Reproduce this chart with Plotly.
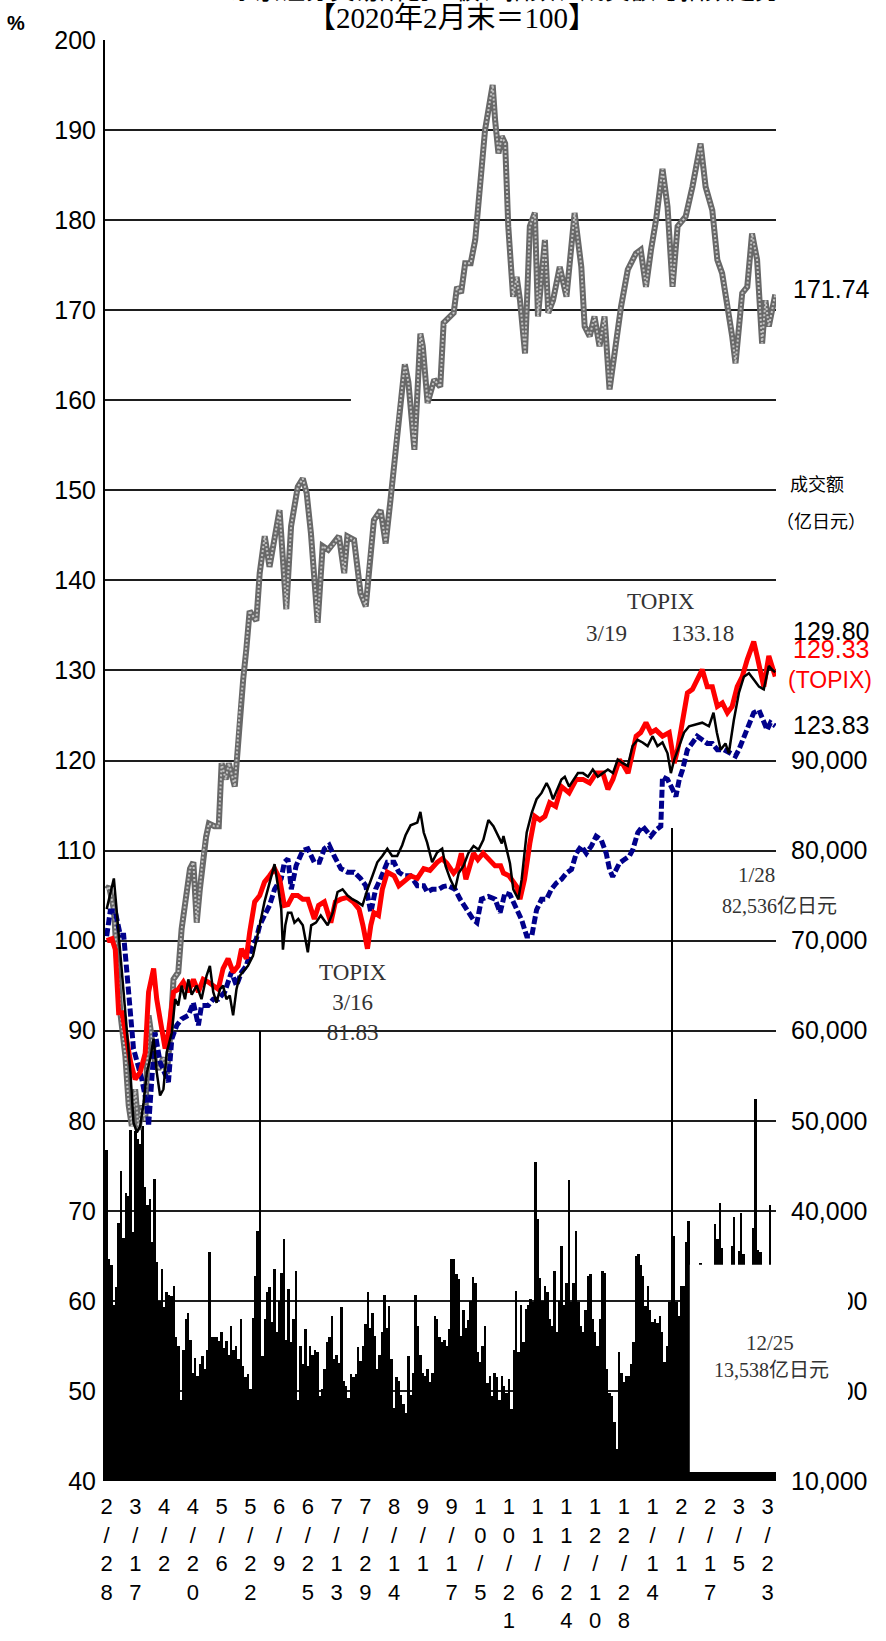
import plotly.graph_objects as go

# ---------------- data ----------------
tick_dates = ["2/28", "3/17", "4/2", "4/20", "5/6", "5/22", "6/9", "6/25", "7/13", "7/29",
              "8/14", "9/1", "9/17", "10/5", "10/21", "11/6", "11/24", "12/10", "12/28",
              "1/14", "2/1", "2/17", "3/5", "3/23"]
tick_pos = [12 * i for i in range(len(tick_dates))]

# daily trading value (亿日元), one per trading day index 0..279
volume = [46700, 34600, 34000, 29500, 31500, 38700, 44400, 37000, 42000, 41700,
          49000, 37600, 48900, 48000, 47400, 49400, 42600, 40700, 41300, 36500,
          43500, 34300, 30000, 33500, 29300, 31000, 30700, 30500, 31700, 26000,
          25000, 19000, 24500, 28000, 28700, 25700, 22000, 23700, 21700, 23000,
          23900, 22400, 24600, 35400, 26000, 26000, 26000, 25600, 26500, 24800,
          25600, 24000, 27200, 24600, 25000, 23500, 28000, 22800, 21500, 21900,
          20200, 28100, 32800, 37800, 60000, 23900, 28000, 31000, 31500, 27600,
          33500, 26500, 30000, 33100, 36900, 25700, 31300, 25400, 28000, 33300,
          19000, 25000, 23000, 26900, 22800, 25000, 24000, 24600, 24300, 19400,
          20200, 22400, 25400, 26000, 28300, 23500, 24000, 23100, 29300, 21100,
          20500, 19200, 21900, 21500, 21900, 24900, 23300, 25000, 27400, 31000,
          27000, 28700, 26100, 22400, 24000, 26500, 30700, 27000, 29400, 23500,
          18100, 21500, 21100, 19600, 18500, 17600, 23900, 19600, 22000, 30600,
          27200, 24000, 22000, 21700, 22400, 21000, 22000, 28300, 28000, 26000,
          25400, 25700, 25000, 26900, 34600, 34600, 33000, 32400, 26100, 29000,
          27000, 27900, 30000, 32600, 32000, 24300, 23200, 25000, 27200, 20900,
          21700, 19400, 22000, 21600, 19000, 21700, 20500, 19800, 21300, 18000,
          24600, 31100, 24300, 29500, 25400, 29100, 29500, 30200, 29900, 45400,
          39100, 32500, 30000, 31700, 31000, 28000, 27200, 33300, 26500, 30000,
          36100, 29500, 32000, 43400, 29900, 32000, 37800, 29900, 27200, 26500,
          29000, 32800, 33000, 28000, 26500, 25000, 28000, 33300, 33100, 22400,
          19800, 19400, 16500, 13538, 24300, 22000, 21000, 21700, 21700, 23000,
          25400, 35000, 35200, 34000, 32800, 29400, 31600, 29000, 27600, 28000,
          27500, 28300, 26500, 23200, 25000, 29900, 82536, 37200, 29900, 28300,
          31700, 31700, 36500, 38900, 30000, 30000, 32000, 28500, 34200, 31000,
          29000, 32500, 30500, 33000, 38500, 36900, 40900, 35900, 31000, 30000,
          32500, 36100, 39300, 32000, 35500, 39800, 35200, 31000, 29500, 32000,
          38100, 52400, 35600, 35400, 31000, 30500, 32000, 40600, 33000, 32500]
vol_days = list(range(len(volume)))

# gray index (171.74 at the end)
gray_x = [0, 1, 3, 4.3, 5.7, 7.8, 9.2, 10.5, 11.9, 13.3, 14.7, 16.1, 17.5, 18.9, 20.2, 21.6,
          23.7, 25.1, 26.5, 27.9, 29.9, 31.3, 32.7, 34.8, 36.2, 37.6, 38.9, 40.3, 41.5, 42.7,
          45, 46.8, 48, 49.7, 51, 53.5, 54.2, 55.5, 57, 58.3, 59.7, 62.5, 63.9, 66, 68, 70,
          72.2, 75, 77, 79.8, 81.9, 83.5, 85.3, 88.1, 90.2, 92.5, 95, 97, 99.2, 100.5, 103.3,
          106, 108.2, 109.5, 111.6, 114.4, 116.5, 118.5, 120, 121.3, 123, 124.5, 126, 127.5,
          128.5, 129.6, 131, 132, 134, 136.8, 139.3, 140.7, 142.5, 144.9, 146.3, 148, 149.7,
          152, 153.9, 156, 158, 160.1, 161.2, 162.2, 163.6, 165, 166.4, 167.7, 168.9, 169.7,
          171.2, 172.6, 174.7, 176.7, 178.8, 180.1, 183, 184.4, 186.4, 189.2, 192, 195.4,
          198.2, 199.6, 201.7, 203.7, 205.8, 207.9, 210, 212.7, 214.8, 217.6, 221, 223,
          225.2, 227.3, 229.4, 232.1, 234.2, 236.3, 238.4, 241.8, 244.6, 248, 250.1, 252.9,
          255, 257, 259, 261.2, 262.6, 265.4, 267.5, 269.5, 271.6, 273.7, 275.1, 276.5, 279.2]
gray_y = [105.7, 106, 103.5, 98.3, 92, 87.2, 81.7, 79.4, 83.5, 79, 81.7, 80, 91.7, 89, 86.5, 85.7,
          87, 85.2, 89.3, 95.7, 96.5, 101.3, 103.9, 108, 108.7, 102, 105.7, 109.8, 111.5, 113,
          112.7, 112.7, 119.7, 117.9, 119.7, 117.1, 120, 125.3, 129, 132.3, 136.6, 135.5, 140.8,
          144.9, 141.5, 144.5, 147.8, 136.8, 146, 150.4, 151.3, 149.7, 145.2, 135.3, 143.8,
          143.4, 144.1, 144.9, 140.8, 144.9, 144.5, 138.6, 137.1, 141.5, 146.7, 147.8, 144.1,
          148.9, 152.6, 156.7, 161, 164, 162, 157, 154.5, 160, 167.4, 166, 159.7, 162.3, 161.5,
          168.6, 169.1, 169.7, 172.6, 171.9, 175.2, 175.2, 177.8, 184.5, 190, 193.3, 195,
          191.1, 187.4, 189.3, 188.5, 179.3, 174.1, 171.5, 173.7, 171.1, 165.2, 179.3, 180.8,
          169.3, 177.8, 169.7, 171.1, 174.8, 171.5, 180.8, 174.8, 168.2, 167.1, 169.3, 166,
          169.3, 161.2, 166.3, 170.4, 174.5, 176.3, 176.7, 172.6, 176.7, 180, 185.7, 181.5,
          172.6, 179.3, 180.4, 183.7, 188.5, 183.7, 181.1, 175.6, 174.1, 171.1, 167.1, 164.1,
          171.9, 172.6, 178.5, 175.6, 166.3, 171.1, 168.2, 171.74]

# TOPIX (red)
topix_x = [0, 2.2, 3.6, 5, 6.4, 8.5, 10, 11.9, 14, 16.1, 17.5, 19.6, 20.9, 22.3, 23.7, 24.4,
           25.8, 27.9, 29.9, 32, 34.1, 36.2, 38.3, 40.3, 42.4, 44.5, 46.6, 48.6, 50.7, 52.8,
           54.9, 56.3, 58.3, 59.7, 61.8, 63.9, 65.9, 68, 70.1, 72.2, 74.2, 75.7, 77.7, 79.8,
           81.9, 84, 86.7, 88.5, 90.9, 93.6, 95.5, 97.8, 100.5, 103, 105.4, 107, 108.9, 110.3,
           111.6, 113.5, 115.1, 117.2, 120, 122, 124.1, 127, 129.7, 132.4, 135, 138, 140.1,
           142, 144.9, 146.5, 148.1, 150, 153.2, 155, 157.2, 160, 162.2, 164.5, 165.7, 168,
           171.2, 172.6, 174.5, 176.7, 178.8, 180.9, 183, 185, 187.5, 189.9, 191.5, 193.1,
           196.1, 198.9, 201.7, 204.4, 207.2, 209.3, 211.4, 214.1, 216, 217.7, 221.1, 223,
           225.2, 227.3, 229.3, 232.1, 234.9, 237, 238.4, 240.4, 242.5, 244.6, 246.7, 248.7,
           250.8, 252.9, 255, 257.1, 259.2, 261.2, 263.3, 265.4, 267.5, 270.2, 271.6, 273,
           274.4, 276.5, 277.8, 279.2]
topix_y = [100, 100.2, 99, 92, 92, 89, 86.5, 84.6, 85.4, 87.5, 94.3, 96.9, 93.5, 91.3, 89.4, 88,
           89.8, 94.3, 94.6, 95.4, 94.3, 95.7, 94.3, 95.7, 95.4, 95, 94.6, 96.9, 98, 96.5,
           97.2, 99.1, 98, 100.9, 104.3, 105, 106.5, 107.2, 108, 106.9, 103.9, 104, 105, 105,
           104.6, 104.6, 102.4, 103.9, 104.3, 102, 104.3, 104.6, 104.8, 104.3, 103.5, 101.7,
           99.1, 101.7, 103.1, 102.8, 105.7, 107.6, 107.2, 106.1, 106.5, 107.2, 106.9, 108,
           107.8, 108.7, 109.1, 108.6, 107.5, 108, 109.7, 106.8, 109.7, 109, 109.7, 109, 108.3,
           108.3, 107.5, 107.2, 106, 104.6, 106.8, 110.8, 113.8, 113.4, 113.8, 115.3, 114.9,
           117.1, 116.8, 116.4, 117.9, 117.9, 117.5, 118.6, 118.6, 116.8, 117.9, 120.1, 119.4,
           118.6, 122.7, 123.1, 124.2, 123.1, 123.4, 122.7, 123.1, 119.7, 121.2, 124.2, 127.5,
           127.9, 129, 130.1, 128.2, 128.2, 126, 126.4, 125.3, 126, 128.2, 129.3, 131.2, 133.2,
           131.6, 129.7, 128.2, 131.6, 130.5, 129.33]

# black index (129.80 at the end)
black_x = [0, 1.5, 3, 4, 5.7, 7.1, 8.5, 9.9, 11.2, 12.6, 14, 15.4, 16.8, 18.2, 19.6, 20.9,
           22.3, 23.7, 25.1, 27.2, 28.6, 29.9, 31.3, 32.7, 34.1, 35.5, 37.6, 39.6, 41.7, 43.1,
           44.5, 45.9, 47.3, 48.6, 50, 51.4, 52.8, 54.2, 55.6, 56.9, 59, 61.1, 62.5, 63.9,
           65.9, 68, 70.1, 71.5, 72.9, 73.6, 74.6, 75.7, 77.1, 78.4, 80, 81.9, 84, 85.4, 87.4,
           89.4, 92.3, 94.4, 96.4, 98.5, 100.6, 102.6, 104.7, 106.8, 108.9, 111, 113, 115.1,
           117.2, 119.2, 121.3, 123.4, 124.8, 126.9, 129.7, 131, 132.4, 133.8, 135.9, 138,
           140.1, 141.5, 143.5, 145.5, 147, 149, 151, 153.2, 155.3, 157.3, 159.4, 161.5,
           163.6, 165, 165.7, 168.4, 169.8, 171.9, 173.3, 175.4, 177.5, 179.5, 181.6, 183.7,
           185, 186.4, 189.9, 191.3, 193.1, 196.8, 198.9, 201, 203, 205.1, 207.2, 209.3,
           211.4, 213.4, 215.5, 217.6, 219.6, 221.7, 223.8, 225.9, 228, 230, 232.1, 234.2,
           235.6, 237, 239.1, 241.1, 243.2, 246, 248.7, 251.5, 253.4, 254.8, 256.4, 258.4,
           259.8, 261.9, 264, 266.1, 268.2, 270.2, 272.4, 274.4, 276.5, 277.8, 279.2]
black_y = [103.5, 105.4, 106.9, 103.9, 98.5, 94.6, 90.6, 85.4, 79.8, 78.7, 79.4, 82, 85.4, 86.9,
           89.1, 85.4, 82.8, 83.5, 87.6, 89.8, 93.5, 92.8, 95, 93.5, 95.7, 94, 95, 93.5, 96.1,
           97.2, 94.3, 93.1, 94.6, 95, 93.5, 93.9, 91.7, 94.6, 96.1, 96.5, 97.2, 98.3, 100.2,
           101.7, 104.3, 106.5, 108.5, 106.1, 103.5, 99, 101.7, 103.1, 103.1, 102, 102.4,
           101.7, 98.7, 101.7, 102, 102.8, 101.7, 103.1, 105.4, 105.7, 105, 104.6, 104.3,
           103.9, 105.7, 107.2, 108.7, 109.4, 110.2, 109.4, 109.4, 110.6, 111.7, 112.8, 113.1,
           114.3, 112, 110.9, 108.7, 109.8, 110.2, 108.3, 106.8, 105.7, 107.5, 108.3, 109.7,
           110.5, 110.1, 111.2, 113.4, 112.7, 111.6, 110.8, 111.6, 108.6, 105.7, 104.6, 106.8,
           112, 114.2, 115.7, 116.4, 117.5, 116.8, 115.7, 117.9, 118.2, 117.1, 118.6, 118.6,
           118.2, 119, 118.2, 118.6, 119, 118.6, 120.1, 119.7, 119.4, 121.6, 122.3, 122,
           121.6, 122.7, 121.6, 122, 120.8, 118.6, 120.1, 121.6, 123.1, 123.8, 124, 124.2,
           123.8, 125.3, 123.1, 121.2, 121.9, 120.8, 124.5, 127.5, 129.3, 129.7, 129, 128.2,
           127.9, 130.5, 130.1, 129.8]

# navy index (123.83 at the end)
navy_x = [0, 1.5, 3.5, 5.7, 7.1, 9.2, 9.9, 11.2, 14.7, 16.8, 17.5, 18.9, 20.2, 22.3, 25.8,
          27.2, 29.3, 31.3, 34.1, 36.2, 38.3, 39.6, 42.4, 44.5, 46.6, 49.3, 52.1, 54.2, 56.3,
          58.3, 60.4, 62.5, 63.9, 65.9, 68, 70.1, 72.9, 74.2, 75.7, 77.1, 79.1, 81.9, 84,
          86.7, 88.8, 90.9, 92.9, 95, 97.8, 100.6, 103.3, 106, 108.2, 110.3, 112.3, 114.4,
          117.2, 120, 122, 124.1, 126.9, 129.7, 132.4, 133.8, 136, 138.6, 140.5, 142.5, 145.5,
          147.6, 150.4, 153.2, 154.6, 156.5, 159.4, 162.2, 164.3, 166.3, 168.4, 170.5, 173.3,
          175.4, 177.5, 179.5, 181.6, 183.7, 185.7, 187.8, 189.9, 192, 194.1, 196.1, 198.2,
          200.3, 202.4, 204.4, 206.5, 208.6, 210, 211.3, 214.1, 216.2, 218.3, 219.7, 221.8,
          223.8, 225.9, 227.3, 229.4, 231.4, 232.1, 234.2, 236.3, 237.7, 239.1, 240.5, 242.5,
          244.6, 246.6, 248.7, 250.8, 252.9, 255, 257.8, 260.5, 262.6, 264, 266.1, 268.2,
          270.2, 272.4, 274.4, 275.8, 277.2, 279.2]
navy_y = [100.5, 103.3, 103.3, 100.6, 100.6, 93.5, 92.2, 88, 84.6, 81.7, 79.4, 84.6, 89.8, 86.5,
          84.3, 89.1, 90.6, 91.3, 91.7, 93.1, 90.6, 92.8, 92.8, 93.5, 93.5, 94.3, 96.5, 95,
          96.5, 97.2, 99.1, 100.2, 101.7, 102.8, 103.9, 105.7, 106.9, 108.7, 109.1, 105.7,
          108.3, 110, 110.2, 108.7, 108.7, 110.2, 110.6, 109.4, 108, 107.6, 107.6, 106.9,
          106.1, 103.1, 105.7, 106.9, 108.7, 108.7, 107.6, 107.2, 107.2, 106.1, 106.1, 105.4,
          105.7, 105.7, 106, 106.1, 105.7, 104.6, 103.4, 102.3, 102, 104.6, 104.9, 104.6, 103.1,
          105.3, 105.1, 103.8, 102.3, 100.5, 100.5, 103.4, 104.6, 104.6, 105.7, 106.4, 106.8,
          107.5, 107.9, 109.7, 110.5, 109.7, 110.5, 111.6, 111.2, 109.7, 107.9, 107.1, 108.6,
          109, 109.4, 110.1, 112, 112.7, 112, 111.6, 112.3, 112.7, 118.2, 117.9, 116.8, 116,
          117.9, 119, 121.2, 121.9, 122.7, 122.3, 121.9, 121.9, 121.2, 121.2, 120.8, 120.5,
          121.2, 122.7, 124.2, 125.3, 125.6, 124.2, 123.4, 124.2, 123.83]

# ---------------- layout constants ----------------
W, H = 886, 1641
ML, MR, MT, MB = 105, 110, 40, 160
PW = W - ML - MR
PH = H - MT - MB
XMIN, XMAX = -0.7, 279.5
PCT_MIN, PCT_MAX = 40, 200
VOL_MIN, VOL_MAX = 10000, 170000


def px_to_paper_x(px):
    return (px - ML) / PW


def px_to_paper_y(py):
    return 1 - (py - MT) / PH


def pct_to_vol(p):
    return VOL_MIN + (p - PCT_MIN) * (VOL_MAX - VOL_MIN) / (PCT_MAX - PCT_MIN)


SANS = "Liberation Sans, Arial, sans-serif"
NARROW = "Liberation Sans Narrow, Arial Narrow, Liberation Sans, sans-serif"
SERIF = "Liberation Serif, Noto Sans CJK SC, serif"
CJK = "Noto Sans CJK SC, sans-serif"

fig = go.Figure()

# volume bars on main axis (volume, right side)
fig.add_trace(go.Bar(x=vol_days, y=volume, marker=dict(color="black", line=dict(width=0)),
                     width=1.0, yaxis="y", showlegend=False, hoverinfo="skip"))

# gray index: outer band + light dotted core for a checkered look
fig.add_trace(go.Scatter(x=gray_x, y=gray_y, mode="lines", yaxis="y2",
                         line=dict(color="#686868", width=6), showlegend=False))
fig.add_trace(go.Scatter(x=gray_x, y=gray_y, mode="lines", yaxis="y2",
                         line=dict(color="#c4c4c4", width=2, dash="2px,2px"), showlegend=False))
# navy
fig.add_trace(go.Scatter(x=navy_x, y=navy_y, mode="lines", yaxis="y2",
                         line=dict(color="#00008b", width=5, dash="8px,3px"), showlegend=False))
# red TOPIX
fig.add_trace(go.Scatter(x=topix_x, y=topix_y, mode="lines", yaxis="y2",
                         line=dict(color="#ff0000", width=5), showlegend=False))
# black
fig.add_trace(go.Scatter(x=black_x, y=black_y, mode="lines", yaxis="y2",
                         line=dict(color="black", width=2.5), showlegend=False))

vol_ticks = list(range(VOL_MIN, VOL_MAX + 1, 10000))
vol_text = [f"{v:,}" if v <= 90000 else "" for v in vol_ticks]

fig.update_layout(
    width=W, height=H,
    margin=dict(l=ML, r=MR, t=MT, b=MB, pad=0, autoexpand=False),
    paper_bgcolor="white", plot_bgcolor="white",
    bargap=0, showlegend=False,
    xaxis=dict(range=[XMIN, XMAX], showgrid=False, zeroline=False, showline=False,
               tickmode="array", tickvals=tick_pos, automargin=False,
               ticktext=["<br>".join(list(t)) for t in tick_dates],
               tickfont=dict(family=NARROW, size=22, color="black"),
               ticks="", ticklabelstandoff=10),
    yaxis=dict(range=[VOL_MIN, VOL_MAX], side="right", showgrid=True, gridcolor="#1e1e1e",
               gridwidth=2, zeroline=False, showline=False, tickmode="array",
               tickvals=vol_ticks, ticktext=vol_text, ticks="", automargin=False,
               tickfont=dict(family=SANS, size=25, color="black"), ticklabelstandoff=14),
    yaxis2=dict(range=[PCT_MIN, PCT_MAX], overlaying="y", side="left", showgrid=False,
                zeroline=False, showline=True, linecolor="black", linewidth=2,
                tickmode="linear", tick0=40, dtick=10, ticks="", automargin=False,
                tickfont=dict(family=NARROW, size=25, color="black"),
                ticklabelstandoff=2),
)

shapes = []
# white patch interrupting the 160 gridline
shapes.append(dict(type="rect", xref="x", yref="y", x0=102, x1=133,
                   y0=pct_to_vol(159.4), y1=pct_to_vol(160.6),
                   fillcolor="white", line=dict(width=0), layer="between"))
# white box over the lower-right corner of the volume area
shapes.append(dict(type="rect", xref="paper", yref="paper",
                   x0=(243.5 - XMIN) / (XMAX - XMIN), x1=px_to_paper_x(848),
                   y0=(41 - PCT_MIN) / (PCT_MAX - PCT_MIN),
                   y1=(64 - PCT_MIN) / (PCT_MAX - PCT_MIN),
                   fillcolor="white", line=dict(width=0), layer="above"))
fig.update_layout(shapes=shapes)

ann = []


def add(text, x, y, xref="paper", yref="paper", size=20, color="black", family=SANS,
        xanchor="center", yanchor="middle", align="center"):
    ann.append(dict(text=text, x=x, y=y, xref=xref, yref=yref, showarrow=False,
                    font=dict(size=size, color=color, family=family),
                    xanchor=xanchor, yanchor=yanchor, align=align))


# titles (first line mostly cut off by the top edge)
add("东京证券交易所创业板、指数、成交额与指数走势", px_to_paper_x(505), px_to_paper_y(-12),
    size=25, family=CJK)
add("【2020年2月末＝100】", px_to_paper_x(452), px_to_paper_y(18), size=29, family=SERIF)
add("<b>%</b>", px_to_paper_x(16), px_to_paper_y(23), size=20, family=SANS)

# right-side value labels
RX = px_to_paper_x(791)
add("171.74", RX, 172.3, yref="y2", size=25, xanchor="left")
add("129.80", RX, 134.4, yref="y2", size=25, xanchor="left")
add("129.33", RX, 132.4, yref="y2", size=25, xanchor="left", color="#ff0000")
add("(TOPIX)", px_to_paper_x(786), 128.9, yref="y2", size=23, xanchor="left", color="#ff0000")
add("123.83", RX, 123.9, yref="y2", size=25, xanchor="left")
add("成交额", px_to_paper_x(817), 150.8, yref="y2", size=18, family=CJK)
add("（亿日元）", px_to_paper_x(821), 146.7, yref="y2", size=18, family=CJK)

# in-plot notes
NOTE = "#333333"
add("TOPIX<br>3/16<br>81.83", 102.7, 93.1, xref="x", yref="y2", size=23, color=NOTE,
    family=SERIF)
add("TOPIX", px_to_paper_x(661), 137.6, yref="y2", size=23, color=NOTE, family=SERIF)
add("3/19", px_to_paper_x(606), 134.1, yref="y2", size=23, color=NOTE, family=SERIF)
add("133.18", px_to_paper_x(702), 134.1, yref="y2", size=23, color=NOTE, family=SERIF)
add("1/28", px_to_paper_x(756), 107.3, yref="y2", size=21, color=NOTE, family=SERIF)
add("82,536亿日元", px_to_paper_x(779), 103.8, yref="y2", size=20, color=NOTE, family=SERIF)
add("12/25", px_to_paper_x(770), 55.3, yref="y2", size=21, color=NOTE, family=SERIF)
add("13,538亿日元", px_to_paper_x(771), 52.3, yref="y2", size=20, color=NOTE, family=SERIF)

fig.update_layout(annotations=ann)

fig.write_html("out.html", config={"displayModeBar": False},
               post_script="document.body.style.margin='0';")
